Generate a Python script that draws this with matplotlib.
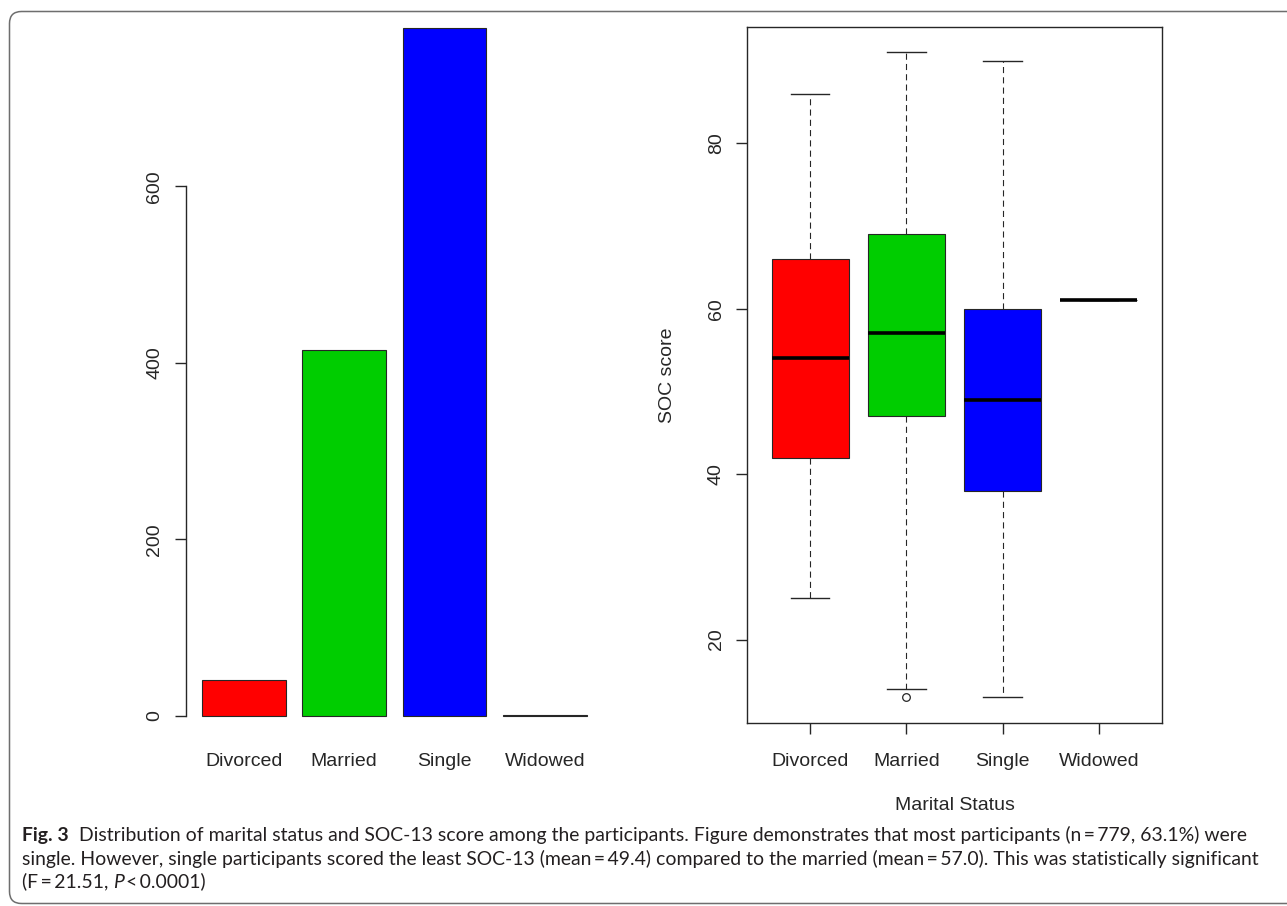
import matplotlib
matplotlib.use("Agg")
import matplotlib.pyplot as plt
from matplotlib.patches import FancyBboxPatch
from matplotlib.transforms import IdentityTransform, offset_copy

# ---- data -------------------------------------------------------------
categories = ["Divorced", "Married", "Single", "Widowed"]
counts = [41, 414, 779, 1]
count_ticks = [0, 200, 400, 600]

soc_low = [25, 14, 13, 61]
soc_q1 = [42, 47, 38, 61]
soc_median = [54, 57, 49, 61]
soc_q3 = [66, 69, 60, 61]
soc_high = [86, 91, 90, 61]
soc_outliers = [[], [13], [], []]
score_ticks = [20, 40, 60, 80]

bar_colors = ["#FF0000", "#00CD00", "#0000FF", "#000000"]
box_colors = ["#FF0000", "#00CD00", "#0000FF", "#FFFFFF"]

caption_lines = [
    [("Fig. 3", "bold", "normal"),
     ("Distribution of marital status and SOC-13 score among the participants. "
      "Figure demonstrates that most participants (n\u2009=\u2009779, 63.1%) were", "normal", "normal")],
    [("single. However, single participants scored the least SOC-13 (mean\u2009=\u200949.4) "
      "compared to the married (mean\u2009=\u200957.0). This was statistically significant", "normal", "normal")],
    [("(F\u2009=\u200921.51,", "normal", "normal"),
     ("P", "normal", "italic"),
     ("<\u20090.0001)", "normal", "normal")],
]
# gap (in spaces) placed before each piece of a caption line
caption_gaps = [[0, 2], [0], [0, 1, 0.45]]

# ---- style ------------------------------------------------------------
W, H, DPI = 1287, 906, 100
INK = "#262626"
AX_FONT = ["Liberation Sans", "DejaVu Sans"]
CAP_FONT = ["Lato", "DejaVu Sans"]
CAP_COLOR = "#231F20"
FS = 14

plt.rcParams["lines.scale_dashes"] = False
plt.rcParams["font.family"] = AX_FONT

fig = plt.figure(figsize=(W / DPI, H / DPI), dpi=DPI)


def axes_px(x0, y0, x1, y1):
    """Axes placed by pixel edges measured from the top-left corner."""
    return fig.add_axes([x0 / W, 1 - y1 / H, (x1 - x0) / W, (y1 - y0) / H])


TOP, BOTTOM = 26.5, 723.2

# ---- left: counts per marital status ---------------------------------
ax1 = axes_px(186.5, TOP, 602.2, BOTTOM)
bar_x = [0.7 + 1.2 * i for i in range(len(categories))]
ax1.bar(bar_x, counts, width=1.0, color=bar_colors, edgecolor=INK, linewidth=0.8)
ax1.set_xlim(0.016, 4.984)
ax1.set_ylim(-8.15, 780.9)
for s in ("top", "right", "bottom"):
    ax1.spines[s].set_visible(False)
ax1.spines["left"].set_bounds(count_ticks[0], count_ticks[-1])
ax1.spines["left"].set_linewidth(1.0)
ax1.spines["left"].set_color(INK)
ax1.set_xticks([])
ax1.set_yticks(count_ticks)
ax1.tick_params(axis="y", length=8, width=1.0, color=INK, labelleft=False)

ytr1 = offset_copy(ax1.get_yaxis_transform(), fig=fig, x=-27.2, y=0, units="dots")
for v in count_ticks:
    ax1.text(0, v, str(v), transform=ytr1, rotation=90, rotation_mode="anchor",
             ha="center", va="baseline", fontsize=FS, color=INK)
xtr1 = offset_copy(ax1.get_xaxis_transform(), fig=fig, x=0, y=-42.6, units="dots")
for x, c in zip(bar_x, categories):
    ax1.text(x, 0, c, transform=xtr1, ha="center", va="baseline", fontsize=FS, color=INK)

# ---- right: SOC score by marital status -------------------------------
ax2 = axes_px(746.7, TOP, 1162.4, BOTTOM)
positions = list(range(1, len(categories) + 1))
stats = [dict(label=c, whislo=lo, q1=a, med=m, q3=b, whishi=hi, fliers=f)
         for c, lo, a, m, b, hi, f in zip(categories, soc_low, soc_q1, soc_median,
                                          soc_q3, soc_high, soc_outliers)]
bp = ax2.bxp(stats, positions=positions, widths=0.8, capwidths=0.4,
             patch_artist=True, showfliers=True,
             boxprops=dict(edgecolor=INK, linewidth=0.8),
             whiskerprops=dict(color=INK, linewidth=0.8, linestyle=(0, (4.4, 3.0))),
             capprops=dict(color=INK, linewidth=1.0),
             medianprops=dict(color="black", linewidth=2.6, solid_capstyle="butt"),
             flierprops=dict(marker="o", markerfacecolor="none", markeredgecolor=INK,
                             markersize=5.5, markeredgewidth=0.9))
for patch, c in zip(bp["boxes"], box_colors):
    patch.set_facecolor(c)
ax2.set_xlim(0.34, 4.66)
ax2.set_ylim(9.88, 94.12)
for s in ax2.spines.values():
    s.set_linewidth(1.0)
    s.set_color(INK)
ax2.set_xticks(positions)
ax2.set_yticks(score_ticks)
ax2.tick_params(axis="both", length=8, width=1.0, color=INK,
                labelleft=False, labelbottom=False)

ytr2 = offset_copy(ax2.get_yaxis_transform(), fig=fig, x=-26.0, y=0, units="dots")
for v in score_ticks:
    ax2.text(0, v, str(v), transform=ytr2, rotation=90, rotation_mode="anchor",
             ha="center", va="baseline", fontsize=FS, color=INK)
xtr2 = offset_copy(ax2.get_xaxis_transform(), fig=fig, x=0, y=-42.6, units="dots")
for x, c in zip(positions, categories):
    ax2.text(x, 0, c, transform=xtr2, ha="center", va="baseline", fontsize=FS, color=INK)

ylab_tr = offset_copy(ax2.transAxes, fig=fig, x=-74.7, y=0, units="dots")
ax2.text(0, 0.5, "SOC score", transform=ylab_tr, rotation=90, rotation_mode="anchor",
         ha="center", va="baseline", fontsize=FS, color=INK)
xlab_tr = offset_copy(ax2.transAxes, fig=fig, x=0, y=-86.8, units="dots")
ax2.text(0.5, 0, "Marital Status", transform=xlab_tr, ha="center", va="baseline",
         fontsize=FS, color=INK)

# ---- caption ------------------------------------------------------------
renderer = fig.canvas.get_renderer()


def text_width(s, size, weight="normal", style="normal"):
    t = fig.text(0, 0, s, fontsize=size, fontweight=weight, fontstyle=style, family=CAP_FONT)
    w = t.get_window_extent(renderer).width
    t.remove()
    return w


probe = caption_lines[1][0][0]
cap_size = 10 * 1238.0 / text_width(probe, 10)
space_w = text_width("x x", cap_size) - text_width("xx", cap_size)

baselines = [841.5, 864.5, 887.5]
for pieces, gaps, base in zip(caption_lines, caption_gaps, baselines):
    x = 22.0
    for (s, weight, style), gap in zip(pieces, gaps):
        x += gap * space_w
        t = fig.text(x / W, 1 - base / H, s, fontsize=cap_size, fontweight=weight,
                     fontstyle=style, family=CAP_FONT, color=CAP_COLOR,
                     ha="left", va="baseline")
        x += t.get_window_extent(renderer).width

# ---- rounded frame around the figure ---------------------------------
frame = FancyBboxPatch((9.5, H - 903.5), 1400, 903.5 - 11.5,
                       boxstyle="round,pad=0,rounding_size=12",
                       transform=IdentityTransform(), fill=False,
                       edgecolor="#6e6e6e", linewidth=1.1)
fig.add_artist(frame)

fig.savefig("out.png", dpi=DPI, facecolor="white")
